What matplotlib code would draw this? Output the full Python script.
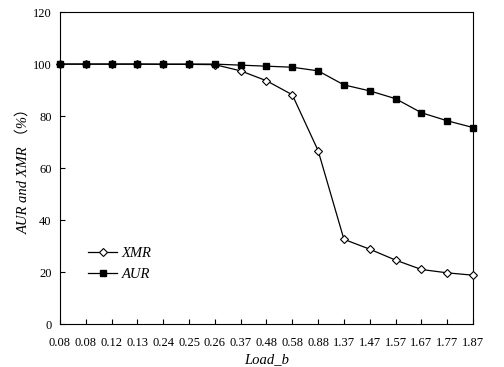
import matplotlib
matplotlib.use("Agg")
import matplotlib.pyplot as plt

# data
load_b = ["0.08", "0.08", "0.12", "0.13", "0.24", "0.25", "0.26", "0.37", "0.48",
          "0.58", "0.88", "1.37", "1.47", "1.57", "1.67", "1.77", "1.87"]
xmr = [100, 100, 100, 100, 99.9, 99.9, 99.8, 97.4, 93.6, 88.2, 66.7,
       32.6, 28.8, 24.6, 21.0, 19.7, 18.8]
aur = [100, 100, 100, 100, 100, 100, 100, 99.6, 99.2, 98.8, 97.4,
       92.0, 89.7, 86.7, 81.3, 78.2, 75.6]

plt.rcParams['font.family'] = ['Liberation Serif', 'Noto Sans CJK SC']

fig = plt.figure(figsize=(5.04, 3.67), dpi=100)
ax = fig.add_axes([0.119, 0.117, 0.8195, 0.850])

x = list(range(len(load_b)))
ax.plot(x, xmr, color='black', lw=0.9, marker='D', ms=3.6, mfc='white',
        mec='black', mew=0.8, label='XMR', clip_on=False, zorder=3)
ax.plot(x, aur, color='black', lw=0.9, marker='s', ms=5.0, mfc='black',
        mec='black', label='AUR', clip_on=False, zorder=4)

ax.set_xlim(0, len(load_b) - 1)
ax.set_ylim(0, 120)
ax.set_yticks(range(0, 121, 20))
ax.set_xticks(x)
ax.set_xticklabels(load_b)
ax.tick_params(direction='in', length=3.5, width=0.8, labelsize=9, pad=6)
ax.tick_params(axis='x', pad=9)
for s in ax.spines.values():
    s.set_linewidth(0.8)

ax.set_xlabel('Load_b', fontsize=10.5, style='italic', labelpad=3)
ax.set_ylabel('AUR and XMR \uff08%\uff09', fontsize=10.5, style='italic', labelpad=2)

leg = ax.legend(loc='upper left', bbox_to_anchor=(0.068, 0.248), frameon=False,
                prop={'style': 'italic', 'size': 10.5}, handlelength=2.0,
                handletextpad=0.3, labelspacing=0.55, borderpad=0, borderaxespad=0)

fig.savefig('out.png', dpi=100)
